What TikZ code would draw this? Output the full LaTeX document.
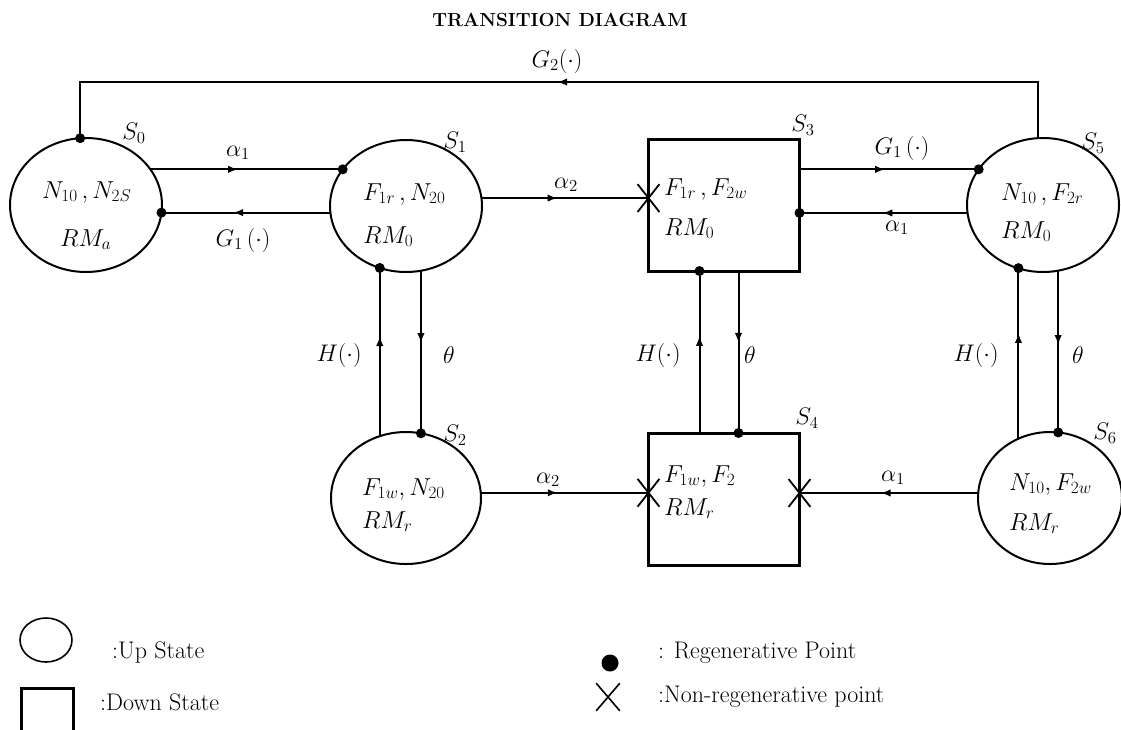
\RequirePackage{fix-cm}
\documentclass[tikz,border=0pt]{standalone}
\usetikzlibrary{arrows.meta,decorations.markings,shapes.geometric,shapes.misc}
\tikzset{
  upstate/.style={ellipse, draw, line width=2pt, inner sep=0pt, outer sep=0pt},
  downstate/.style={rectangle, draw, line width=3pt, inner sep=0pt, outer sep=0pt, minimum width=151, minimum height=132},
  conn/.style={line width=2pt},
  arrat/.style={postaction={decorate}, decoration={markings, mark=at position #1 with {\arrow{Latex[length=10pt,width=7.5pt]}}}},
  regdot/.style={circle, fill, inner sep=0pt, minimum size=10pt},
  nonreg/.style={cross out, draw, line width=1.8pt, inner sep=0pt, minimum width=20pt, minimum height=26pt},
  mtext/.style={inner sep=0pt, anchor=base west, font=\fontsize{24.5}{28}\selectfont},
  mlabel/.style={inner sep=0pt, font=\fontsize{24}{28}\selectfont},
  legtext/.style={inner sep=0pt, anchor=west, font=\fontsize{24}{28}\selectfont}
}
\begin{document}
\begin{tikzpicture}[x=1pt,y=-1pt]
\useasboundingbox (0,0) rectangle (1121,729);
\clip (0,0) rectangle (1121,729);

% title
\node[inner sep=0pt, font=\bfseries\fontsize{19}{23}\selectfont] (title) at (560,20) {TRANSITION DIAGRAM};

% states
\node[upstate, minimum width=152, minimum height=134] (S0) at (86,205) {};
\node[upstate, minimum width=152, minimum height=132] (S1) at (406,206) {};
\node[downstate] (S3) at (724,205) {};
\node[upstate, minimum width=152, minimum height=134] (S5) at (1043,205) {};
\node[upstate, minimum width=150, minimum height=132] (S2) at (406,498) {};
\node[downstate] (S4) at (724,499) {};
\node[upstate, minimum width=144, minimum height=132] (S6) at (1050,498) {};

% state texts
\node[mtext] (t0a) at (42,198) {$N_{10}\,, N_{2S}$};
\node[mtext] (t0b) at (60,246) {$RM_a$};
\node[mtext] (t1a) at (363,200) {$F_{1r}\,, N_{20}$};
\node[mtext] (t1b) at (363,243) {$RM_0$};
\node[mtext] (t3a) at (664,195) {$F_{1r}\,, F_{2w}$};
\node[mtext] (t3b) at (664,235) {$RM_0$};
\node[mtext] (t5a) at (1001,200) {$N_{10}\,, F_{2r}$};
\node[mtext] (t5b) at (1001,238) {$RM_0$};
\node[mtext] (t2a) at (362,495) {$F_{1w}, N_{20}$};
\node[mtext] (t2b) at (362,528) {$RM_r$};
\node[mtext] (t4a) at (664,482) {$F_{1w}, F_2$};
\node[mtext] (t4b) at (664,515) {$RM_r$};
\node[mtext] (t6a) at (1009,490) {$N_{10}, F_{2w}$};
\node[mtext] (t6b) at (1009,530) {$RM_r$};

% state labels
\node[mlabel] (lS0) at (134,133) {$S_0$};
\node[mlabel] (lS1) at (455,142) {$S_1$};
\node[mlabel] (lS3) at (803,125) {$S_3$};
\node[mlabel] (lS5) at (1093,143) {$S_5$};
\node[mlabel] (lS2) at (455,435) {$S_2$};
\node[mlabel] (lS4) at (807,418) {$S_4$};
\node[mlabel] (lS6) at (1105,433) {$S_6$};

% top loop G2
\coordinate (top) at (560,82);
\draw[conn, arrat=0.502, line join=miter] (S5.94) -- (S5.94 |- top) -- (S0.95 |- top) -- (S0.95);
\node[regdot] (d0) at (S0.95) {};
\node[mlabel] (lG2) at (557,61) {$G_2(\cdot)$};

% S0 <-> S1
\draw[conn, arrat=0.456] (S0.29) -- (S0.29 -| S1.150) coordinate (p01);
\node[regdot] (d01) at (p01) {};
\node[mlabel] (la01) at (238,153) {$\alpha_1$};
\draw[conn, arrat=0.576] (S1.185) -- (S1.185 -| S0.354) coordinate (p10);
\node[regdot] (d10) at (p10) {};
\node[mlabel] (lg10) at (243,240) {$G_1\,(\cdot)$};

% S1 -> S3
\draw[conn, arrat=0.456] (S1.6) -- (S1.6 -| S3.west) coordinate (p13);
\node[nonreg] (x13) at (p13) {};
\node[mlabel] (la13) at (566,185) {$\alpha_2$};

% S3 <-> S5
\draw[conn, arrat=0.478] (S5.151 -| S3.east) -- (S5.151);
\node[regdot] (d35) at (S5.151) {};
\node[mlabel] (lg35) at (902,148) {$G_1\,(\cdot)$};
\draw[conn, arrat=0.507] (S5.186) -- (S5.186 -| S3.east) coordinate (p53);
\node[regdot] (d53) at (p53) {};
\node[mlabel] (la53) at (897,228) {$\alpha_1$};

% S1 <-> S2
\draw[conn, arrat=0.595] (S2.113) -- (S2.113 |- S1.247) coordinate (p21);
\node[regdot] (d21) at (p21) {};
\draw[conn, arrat=0.445] (S1.283) -- (S1.283 |- S2.77) coordinate (p12);
\node[regdot] (d12) at (p12) {};
\node[mlabel] (lh12) at (339,355) {$H(\cdot)$};
\node[mlabel] (lt12) at (449,355) {$\theta$};

% S3 <-> S4
\draw[conn, arrat=0.6] ([xshift=-24.5pt]S4.north) -- ([xshift=-24.5pt]S3.south) coordinate (p43);
\node[regdot] (d43) at (p43) {};
\draw[conn, arrat=0.444] ([xshift=14.5pt]S3.south) -- ([xshift=14.5pt]S4.north) coordinate (p34);
\node[regdot] (d34) at (p34) {};
\node[mlabel] (lh34) at (658,355) {$H(\cdot)$};
\node[mlabel] (lt34) at (750,355) {$\theta$};

% S5 <-> S6
\draw[conn, arrat=0.62] (S6.118) -- (S6.118 |- S5.248) coordinate (p65);
\node[regdot] (d65) at (p65) {};
\draw[conn, arrat=0.46] (S5.283) -- (S5.283 |- S6.83) coordinate (p56);
\node[regdot] (d56) at (p56) {};
\node[mlabel] (lh56) at (976,355) {$H(\cdot)$};
\node[mlabel] (lt56) at (1078,355) {$\theta$};

% S2 -> S4, S6 -> S4
\draw[conn, arrat=0.459] (S2.4) -- (S2.4 -| S4.west) coordinate (p24);
\node[nonreg] (x24) at (p24) {};
\node[mlabel] (la24) at (548,480) {$\alpha_2$};
\draw[conn, arrat=0.546] (S6.176) -- (S6.176 -| S4.east) coordinate (p64);
\node[nonreg] (x64) at (p64) {};
\node[mlabel] (la64) at (893,478) {$\alpha_1$};

% legend
\node[upstate, line width=1.6pt, minimum width=52, minimum height=44] (lgU) at (46,640) {};
\node[legtext] (lgUt) at (112,652) {:Up State};
\node[downstate, anchor=north, minimum width=52, minimum height=70] (lgD) at (47,688) {};
\node[legtext] (lgDt) at (100,702) {:Down State};
\node[ellipse, fill, inner sep=0pt, minimum width=17, minimum height=17] (lgR) at (610,663) {};
\node[legtext] (lgRt) at (658,653) {: Regenerative Point};
\node[nonreg, line width=1.6pt, minimum width=22, minimum height=26] (lgX) at (608,697) {};
\node[legtext] (lgXt) at (658,697) {:Non-regenerative point};
\end{tikzpicture}
\end{document}
